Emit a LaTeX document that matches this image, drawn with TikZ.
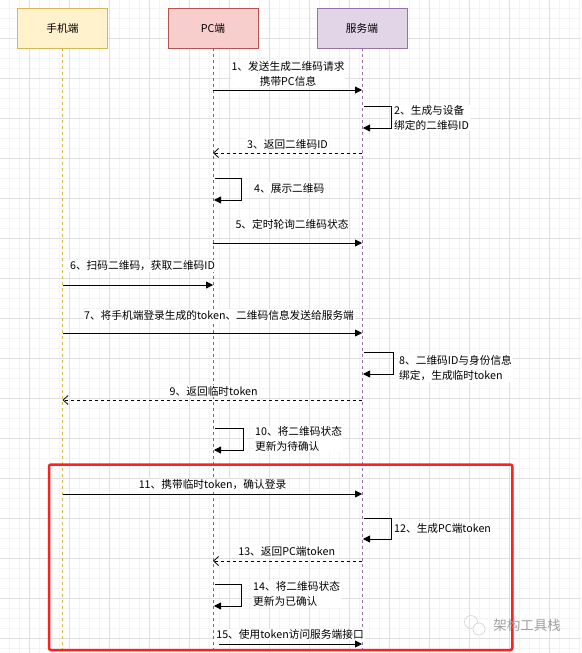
\documentclass[tikz,border=0pt]{standalone}
\usepackage{fontspec}
\setmainfont{Noto Sans CJK SC}
\usetikzlibrary{arrows.meta,positioning}

\definecolor{mobilefill}{HTML}{FFF2CC}
\definecolor{mobileline}{HTML}{D6B656}
\definecolor{pcfill}{HTML}{F8CECC}
\definecolor{pcline}{HTML}{B85450}
\definecolor{serverfill}{HTML}{E1D5E7}
\definecolor{serverline}{HTML}{9673A6}
\definecolor{gridmajor}{HTML}{E0E0E0}
\definecolor{gridminor}{HTML}{F4F4F4}
\definecolor{framered}{HTML}{FF1F1F}

\begin{document}
\begin{tikzpicture}[x=1pt, y=-1pt,
    font=\fontsize{10.7}{15}\selectfont,
    headbox/.style={draw, line width=0.8pt, minimum width=90pt, minimum height=40pt, inner sep=0pt},
    lifeline/.style={line width=0.7pt, dash pattern=on 3pt off 3pt},
    sync/.style={line width=0.8pt, -{Triangle[length=7pt,width=7pt]}},
    reply/.style={line width=0.8pt, dash pattern=on 3pt off 3pt, -{Straight Barb[length=5pt,width=9pt]}},
    msglabel/.style={fill=white, inner sep=1pt, align=center},
    selflabel/.style={fill=white, inner sep=1pt, align=left, anchor=west}]
    \useasboundingbox (0,0) rectangle (581,653);

    % 背景网格
    \foreach \x in {9.5,19.5,...,579.5} \draw[gridminor, line width=0.5pt] (\x,0) -- (\x,653);
    \foreach \y in {8,18,...,648} \draw[gridminor, line width=0.5pt] (0,\y) -- (581,\y);
    \foreach \x in {29.5,69.5,...,569.5} \draw[gridmajor, line width=0.6pt] (\x,0) -- (\x,653);
    \foreach \y in {38,78,...,638} \draw[gridmajor, line width=0.6pt] (0,\y) -- (581,\y);

    % 三个参与者
    \node[headbox, fill=mobilefill, draw=mobileline] (mobile) at (62.5,28) {手机端};
    \node[headbox, fill=pcfill, draw=pcline] (pc) at (213,28) {PC端};
    \node[headbox, fill=serverfill, draw=serverline] (server) at (362,28) {服务端};

    % 生命线
    \coordinate (mobileend) at (mobile |- 0,653);
    \coordinate (pcend) at (pc |- 0,653);
    \coordinate (serverend) at (server |- 0,653);
    \draw[lifeline, mobileline] (mobile) -- (mobileend);
    \draw[lifeline, pcline] (pc) -- (pcend);
    \draw[lifeline, serverline] (server) -- (serverend);

    % 1
    \coordinate (p1) at (pc |- 0,90);
    \coordinate (s1) at (server |- 0,90);
    \draw[sync] (p1) -- (s1);
    \node[msglabel] (t1) at (288,74) {1、发送生成二维码请求\\携带PC信息};

    % 2
    \coordinate (s2a) at (server |- 0,106);
    \coordinate (s2b) at (server |- 0,128);
    \draw[sync] ([xshift=2pt]s2a) -- ++(27,0) |- ([xshift=1pt]s2b);
    \node[selflabel] (t2) at (393,118) {2、生成与设备\\绑定的二维码ID};

    % 3
    \coordinate (s3) at (server |- 0,153);
    \coordinate (p3) at (pc |- 0,153);
    \draw[reply] (s3) -- (p3);
    \node[msglabel] (t3) at (287.5,144) {3、返回二维码ID};

    % 4
    \coordinate (p4a) at (pc |- 0,178);
    \coordinate (p4b) at (pc |- 0,200);
    \draw[sync] ([xshift=2pt]p4a) -- ++(26,0) |- ([xshift=1pt]p4b);
    \node[selflabel] (t4) at (253,188) {4、展示二维码};

    % 5
    \coordinate (p5) at (pc |- 0,243);
    \coordinate (s5) at (server |- 0,243);
    \draw[sync] (p5) -- (s5);
    \node[msglabel] (t5) at (292,224) {5、定时轮询二维码状态};

    % 6
    \coordinate (m6) at (mobile |- 0,285);
    \coordinate (p6) at (pc |- 0,285);
    \draw[sync] (m6) -- (p6);
    \node[msglabel] (t6) at (142.5,266) {6、扫码二维码，获取二维码ID};

    % 7
    \coordinate (m7) at (mobile |- 0,333);
    \coordinate (s7) at (server |- 0,333);
    \draw[sync] (m7) -- (s7);
    \node[msglabel] (t7) at (219,315) {7、将手机端登录生成的token、二维码信息发送给服务端};

    % 8
    \coordinate (s8a) at (server |- 0,352);
    \coordinate (s8b) at (server |- 0,374);
    \draw[sync] ([xshift=2pt]s8a) -- ++(29,0) |- ([xshift=1pt]s8b);
    \node[selflabel] (t8) at (398,368) {8、二维码ID与身份信息\\绑定，生成临时token};

    % 9
    \coordinate (s9) at (server |- 0,400);
    \coordinate (m9) at (mobile |- 0,400);
    \draw[reply] (s9) -- (m9);
    \node[msglabel] (t9) at (213.7,391) {9、返回临时token};

    % 10
    \coordinate (p10a) at (pc |- 0,428);
    \coordinate (p10b) at (pc |- 0,450);
    \draw[sync] ([xshift=2pt]p10a) -- ++(28,0) |- ([xshift=1pt]p10b);
    \node[selflabel] (t10) at (254,439) {10、将二维码状态\\更新为待确认};

    % 11
    \coordinate (m11) at (mobile |- 0,494);
    \coordinate (s11) at (server |- 0,494);
    \draw[sync] (m11) -- (s11);
    \node[msglabel] (t11) at (212.5,485) {11、携带临时token，确认登录};

    % 12
    \coordinate (s12a) at (server |- 0,518);
    \coordinate (s12b) at (server |- 0,539);
    \draw[sync] ([xshift=2pt]s12a) -- ++(27,0) |- ([xshift=1pt]s12b);
    \node[selflabel] (t12) at (393,528) {12、生成PC端token};

    % 13
    \coordinate (s13) at (server |- 0,561);
    \coordinate (p13) at (pc |- 0,561);
    \draw[reply] (s13) -- (p13);
    \node[msglabel] (t13) at (286.7,551) {13、返回PC端token};

    % 14
    \coordinate (p14a) at (pc |- 0,584);
    \coordinate (p14b) at (pc |- 0,606);
    \draw[sync] ([xshift=2pt]p14a) -- ++(26,0) |- ([xshift=1pt]p14b);
    \node[selflabel] (t14) at (252,594) {14、将二维码状态\\更新为已确认};

    % 15
    \coordinate (p15) at (pc |- 0,644);
    \coordinate (s15) at (server |- 0,644);
    \draw[sync] ([xshift=6pt]p15) -- (s15);
    \node[msglabel] (t15) at (290,634.5) {15、使用token访问服务端接口};

    % 红框
    \draw[framered, line width=2.5pt, rounded corners=2pt] (49,464.5) rectangle (512.3,650);

    % 水印
    \draw[gray!35, line width=0.6pt] (471,622) circle (6.5pt);
    \draw[gray!35, line width=0.6pt, fill=white] (479,629) circle (6pt);
    \node[text=gray!75, font=\fontsize{13.5}{16}\selectfont] (mark) at (527,625) {架构工具栈};
\end{tikzpicture}
\end{document}
